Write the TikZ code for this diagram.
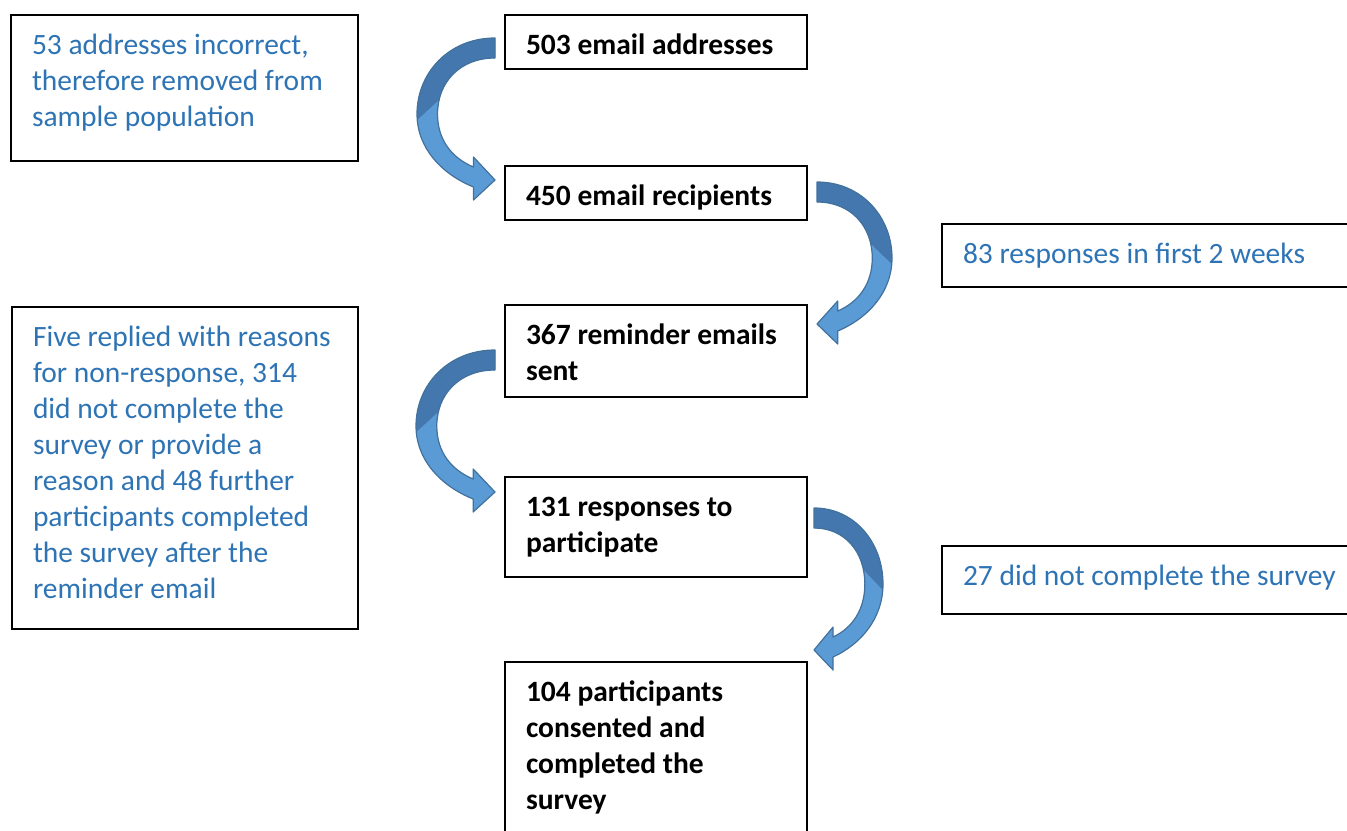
\documentclass[tikz,border=0pt]{standalone}
\usepackage{fontspec}
\setmainfont{Carlito}
\usepackage{tikz}
\usetikzlibrary{calc}

\definecolor{txtblue}{RGB}{46,116,181}
\definecolor{arrowdark}{RGB}{68,119,173}
\definecolor{arrowlight}{RGB}{91,155,213}
\definecolor{arrowline}{RGB}{65,113,156}

% text block of a box: width, height, lines
\newcommand{\boxtxt}[3]{\hspace*{10.5pt}\parbox[t][#2][t]{#1}{\raggedright\rule{0pt}{19.7pt}#3}}
\newcommand{\arrowpath}{(0,-10) .. controls (45,-10) and (76,25) .. (76,66) .. controls (76,100) and (52,126) .. (21,139) -- (21,152) -- (0,132) -- (21,109) -- (21,119) .. controls (42,110) and (56,92) .. (56,66) .. controls (56,34) and (34,10) .. (0,10) -- cycle}
% curved block arrow: tail point, horizontal scale (sign = side)
\newcommand{\bentarrow}[2]{%
    \begin{scope}[shift={#1}, xscale=#2]
        \fill[arrowlight] \arrowpath;
        \begin{scope}
            \clip (-5,-20) -- (100,-20) -- (100,95) -- (40,38) -- (-5,38) -- cycle;
            \fill[arrowdark] \arrowpath;
        \end{scope}
        \draw[arrowline, line width=0.6pt, line join=round] \arrowpath;
    \end{scope}}

\begin{document}
\begin{tikzpicture}[x=0.5pt, y=-0.5pt,
        sidebox/.style={text=txtblue, font=\fontsize{14.74}{18}\selectfont},
        stepbox/.style={text=black, font=\fontsize{14.74}{18}\selectfont\bfseries}]
            \clip (0,0) rectangle (1347,830);

            \begin{scope}[every node/.style={draw, thick, anchor=north west, inner sep=0pt, outer sep=0pt}]
                \node[sidebox] (removed) at (11,15) {\boxtxt{163pt}{73pt}{53 addresses incorrect,\\therefore removed from\\sample population}};
                \node[sidebox] (reasons) at (12,307) {\boxtxt{162.5pt}{161pt}{Five replied with reasons\\for non-response, 314\\did not complete the\\survey or provide a\\reason and 48 further\\participants completed\\the survey after the\\reminder email}};
                \node[stepbox] (addr) at (505,15) {\boxtxt{140.5pt}{27pt}{503 email addresses}};
                \node[stepbox] (recip) at (505,166) {\boxtxt{140.5pt}{27pt}{450 email recipients}};
                \node[stepbox] (remind) at (505,305) {\boxtxt{140.5pt}{46pt}{367 reminder emails\\sent}};
                \node[stepbox] (resp) at (505,477) {\boxtxt{140.5pt}{50pt}{131 responses to\\participate}};
                \node[stepbox] (done) at (505,662) {\boxtxt{140.5pt}{95pt}{104 participants\\consented and\\completed the\\survey}};
                \node[sidebox] (first) at (942,224) {\boxtxt{204.5pt}{31.5pt}{83 responses in first 2 weeks}};
                \node[sidebox] (notdone) at (942,546) {\boxtxt{204.5pt}{34pt}{27 did not complete the survey}};
            \end{scope}

            \bentarrow{($(addr.north west)+(-10,33)$)}{-78/76}
            \bentarrow{($(recip.north east)+(10,26)$)}{75/76}
            \bentarrow{($(remind.north west)+(-10,55)$)}{-79/76}
            \bentarrow{($(resp.north east)+(7,41)$)}{69/76}
        \end{tikzpicture}
\end{document}
